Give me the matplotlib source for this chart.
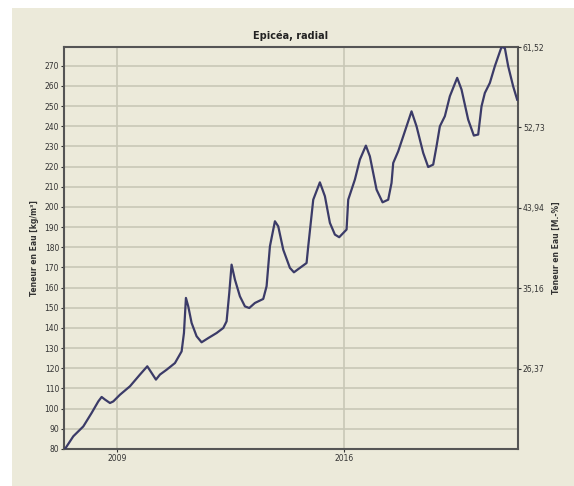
import matplotlib
matplotlib.use("Agg")
import matplotlib.pyplot as plt
from matplotlib.patches import Rectangle

# curve: time (year) and water content (kg/m3)
t = [2007.386, 2007.643, 2007.952, 2008.209, 2008.414, 2008.517, 2008.620, 2008.774,
     2008.877, 2009.082, 2009.391, 2009.699, 2009.925, 2010.059, 2010.192, 2010.316,
     2010.521, 2010.778, 2010.984, 2011.056, 2011.117, 2011.189, 2011.292, 2011.446,
     2011.600, 2011.806, 2012.063, 2012.269, 2012.371, 2012.454, 2012.525, 2012.628,
     2012.782, 2012.937, 2013.070, 2013.245, 2013.502, 2013.605, 2013.708, 2013.862,
     2013.964, 2014.119, 2014.324, 2014.448, 2014.633, 2014.838, 2014.890, 2015.044,
     2015.249, 2015.404, 2015.558, 2015.712, 2015.845, 2016.072, 2016.123, 2016.226,
     2016.329, 2016.483, 2016.668, 2016.791, 2016.997, 2017.182, 2017.356, 2017.459,
     2017.511, 2017.665, 2017.819, 2018.076, 2018.230, 2018.436, 2018.590, 2018.744,
     2018.847, 2018.950, 2019.104, 2019.258, 2019.484, 2019.618, 2019.823, 2019.998,
     2020.132, 2020.235, 2020.337, 2020.492, 2020.646, 2020.851, 2020.954, 2021.057,
     2021.211, 2021.334]
w = [80.0, 86.3, 91.2, 97.9, 103.6, 105.8, 104.5, 102.8,
     103.6, 106.9, 111.1, 116.9, 121.0, 117.7, 114.4, 116.9,
     119.3, 122.6, 128.4, 137.5, 154.9, 150.7, 142.5, 135.9,
     132.9, 135.0, 137.5, 140.0, 143.3, 157.4, 171.4, 164.0,
     155.7, 150.7, 149.9, 152.4, 154.4, 160.7, 180.5, 192.9,
     190.4, 178.8, 169.8, 167.6, 169.8, 172.2, 180.5, 203.6,
     212.2, 205.3, 192.1, 186.3, 185.0, 188.8, 203.6, 208.6,
     213.6, 223.5, 230.4, 225.1, 208.6, 202.3, 203.6, 211.9,
     221.8, 227.6, 235.0, 247.4, 240.0, 226.8, 219.8, 221.0,
     230.1, 240.0, 245.0, 254.9, 264.0, 258.2, 243.3, 235.4,
     235.9, 249.9, 256.5, 261.5, 269.8, 279.3, 278.8, 269.8,
     259.8, 253.2]

left_ticks = list(range(80, 280, 10))
right_pos = [120, 160, 200, 240, 280]
right_labels = ["26,37", "35,16", "43,94", "52,73", "61,52"]
x_ticks = [2009, 2016]
x_labels = ["2009", "2016"]

bg = "#ECEADA"
fig = plt.figure(figsize=(5.74, 4.86), dpi=100, facecolor="white")
fig.patches.append(Rectangle((12 / 574, 0), 1, 1 - 8 / 486, transform=fig.transFigure,
                             facecolor=bg, edgecolor="none", zorder=-10))

ax = fig.add_axes([64 / 574, 1 - 449 / 486, (518 - 64) / 574, (449 - 47) / 486])
ax.set_facecolor(bg)
ax.plot(t, w, color="#3B3B68", linewidth=1.6, zorder=3)

ax.set_xlim(2007.356, 2021.36)
ax.set_ylim(80, 279.3)
ax.set_yticks(left_ticks)
ax.set_yticklabels([str(v) for v in left_ticks])
ax.set_xticks(x_ticks)
ax.set_xticklabels(x_labels)
ax.grid(True, color="#C9C8B6", linewidth=1.2)
ax.set_axisbelow(True)
ax.tick_params(labelsize=5.5, colors="#333333", length=2, width=0.8, pad=1.5)

for s in ax.spines.values():
    s.set_color("#555555")
    s.set_linewidth(1.5)

ax2 = ax.twinx()
ax2.set_ylim(ax.get_ylim())
ax2.set_yticks(right_pos)
ax2.set_yticklabels(right_labels)
ax2.tick_params(labelsize=5.5, colors="#333333", length=2, width=0.8, pad=1.5)
for s in ax2.spines.values():
    s.set_visible(False)

ax.set_title("Epicéa, radial", fontsize=7, fontweight="bold", color="#222222", pad=6)
ax.set_ylabel("Teneur en Eau [kg/m³]", fontsize=5.5, fontweight="bold", color="#333333", labelpad=4)
ax2.set_ylabel("Teneur en Eau [M.-%]", fontsize=5.5, fontweight="bold", color="#333333",
               rotation=90, labelpad=5)

plt.savefig("out.png", dpi=100, facecolor="white")
